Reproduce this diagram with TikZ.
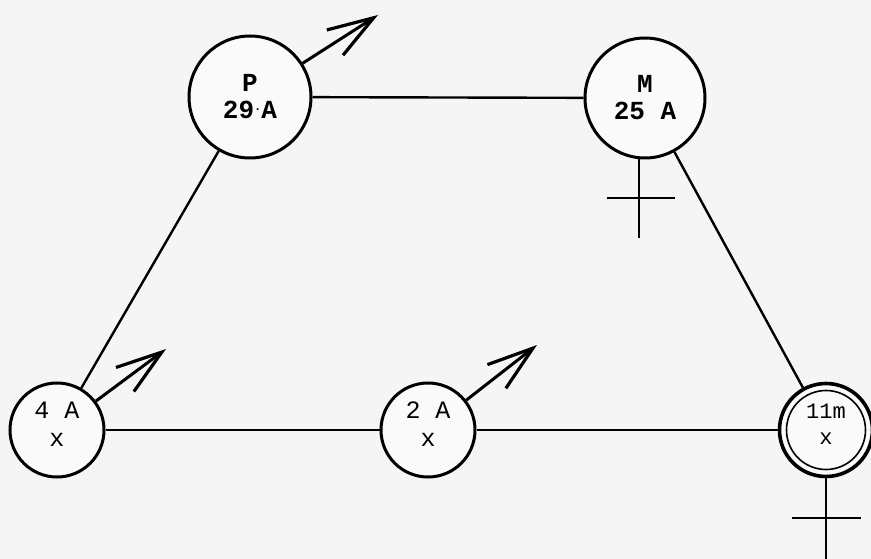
\documentclass[tikz,border=0pt]{standalone}
\usepackage{fontspec}
\setmonofont{Liberation Mono}
\usepackage{tikz}
\usetikzlibrary{arrows.meta}
\begin{document}
\begin{tikzpicture}[x=1pt,y=-1pt,
    person/.style={draw,circle,line width=3pt,inner sep=0pt,fill=gray!4,
      font=\ttfamily\bfseries\fontsize{26}{27}\selectfont,align=center},
    small/.style={font=\ttfamily\fontsize{25}{28}\selectfont,text depth=12pt},
    link/.style={line width=2.4pt},
    outarrow/.style={line width=3pt,-{Straight Barb[length=46pt,width=30pt,line width=3.2pt]}},
    cross/.style={line width=2.6pt}]
  % background
  \fill[gray!8] (0,0) rectangle (871,559);
  \useasboundingbox (0,0) rectangle (871,559);
  % nodes
  \node[person,minimum size=122pt] (P) at (250,97) {P\\29\raisebox{8pt}{\fontsize{12}{12}\selectfont.}A};
  \node[person,minimum size=120pt] (M) at (645,98) {M\\25 A};
  \node[person,small,minimum size=94pt] (FourA) at (57,430) {4 A\\x};
  \node[person,small,minimum size=94pt] (TwoA) at (428,430) {2 A\\x};
  \node[person,small,minimum size=93pt,line width=3.6pt,font=\ttfamily\fontsize{22}{26}\selectfont] (Elev) at (826,430) {11m\\x};
  \draw[line width=1.6pt] (Elev) circle (39.5pt);
  % links
  \draw[link] (P) -- (M);
  \draw[link] (P) -- (FourA);
  \draw[link] (M) -- (Elev);
  \draw[link] (FourA) -- (TwoA);
  \draw[link] (TwoA) -- (Elev);
  % arrows
  \coordinate (Ptip) at (378,15);
  \coordinate (Atip) at (166,349);
  \coordinate (Btip) at (537,345);
  \draw[outarrow] (P) -- (Ptip);
  \draw[outarrow] (FourA) -- (Atip);
  \draw[outarrow] (TwoA) -- (Btip);
  % crosses
  \coordinate (Mfoot) at (639,238);
  \coordinate (Efoot) at (826,559);
  \draw[cross] (M.south) ++(-6,0) -- (Mfoot);
  \draw[cross] (607,198) -- (675,198);
  \draw[cross] (Elev) -- (Efoot);
  \draw[cross] (792,518) -- (861,518);
\end{tikzpicture}
\end{document}
